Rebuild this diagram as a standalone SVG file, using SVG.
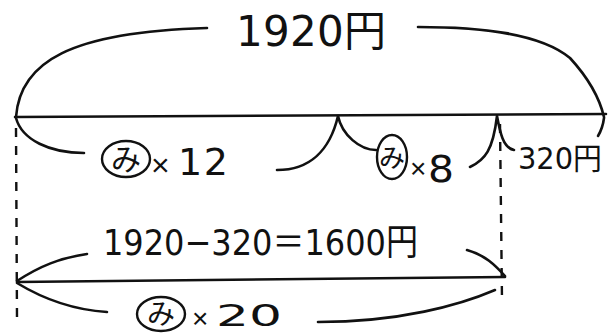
<svg xmlns="http://www.w3.org/2000/svg" width="614" height="333" viewBox="0 0 614 333">
<style>
.s{fill:none;stroke:#111;stroke-width:2.6;stroke-linecap:round;stroke-linejoin:round}
.d{fill:none;stroke:#111;stroke-width:2.4;stroke-dasharray:9 9}
.t{font-family:"DejaVu Sans","Noto Sans CJK JP",sans-serif;fill:#111}
.x{font-family:"Liberation Sans",sans-serif;fill:#111}
.m{font-family:"Noto Sans CJK JP",sans-serif;fill:#111}
.c{fill:none;stroke:#111;stroke-width:2.4}
</style>
<rect width="614" height="333" fill="#fff"/>
<g id="connectors">
<path class="s" d="M16,117 C20,62 70,32 207,28"/>
<path class="s" d="M418,27 C480,27 540,33 570,58 C592,82 600,100 604,117"/>
<path class="s" d="M15,117 L606,114"/>
<path class="s" d="M16,118 C22,140 50,153 84,153"/>
<path class="s" d="M277,170 C310,170 330,150 338,116 C342,135 360,150 376,150"/>
<path class="s" d="M470,167 C485,160 493,150 497,116 C500,132 503,148 514,150"/>
<path class="s" d="M604,118 C603,126 601,131 598,136"/>
<path class="d" d="M16,128 L17,320"/>
<path class="d" d="M500,124 L502,300"/>
<path class="s" d="M17,282 L505,277"/>
<path class="s" d="M17,281 C40,266 60,258 87,254"/>
<path class="s" d="M467,250 C485,255 495,265 505,276"/>
<path class="s" d="M17,283 C45,300 75,310 107,312"/>
<path class="s" d="M318,322 C400,322 460,305 495,290"/>
</g>
<g id="n1"><text class="t" x="236" y="46" font-size="42" textLength="150" lengthAdjust="spacing">1920円</text></g>
<g id="n2"><ellipse class="c" cx="126" cy="159" rx="24" ry="18"/><text class="m" x="126" y="170" font-size="30" text-anchor="middle">み</text><text class="x" x="151" y="176" font-size="32">×</text><text class="t" x="178" y="175" font-size="38" textLength="50" lengthAdjust="spacing">12</text></g>
<g id="n3"><ellipse class="c" cx="392" cy="157" rx="15" ry="22"/><text class="m" x="392" y="167" font-size="26" text-anchor="middle">み</text><text class="x" x="410" y="178" font-size="28">×</text><text class="t" x="428" y="182" font-size="38" textLength="26" lengthAdjust="spacingAndGlyphs">8</text></g>
<g id="n4"><text class="t" x="518" y="169" font-size="30" textLength="84" lengthAdjust="spacingAndGlyphs">320円</text></g>
<g id="n5"><text class="t" x="103" y="255" font-size="36" textLength="315" lengthAdjust="spacingAndGlyphs">1920−320＝1600円</text></g>
<g id="n6"><ellipse class="c" cx="161" cy="314" rx="24" ry="17"/><text class="m" x="161" y="324" font-size="28" text-anchor="middle">み</text><text class="x" x="192" y="328" font-size="28">×</text><text class="t" x="216" y="326" font-size="30" textLength="66" lengthAdjust="spacingAndGlyphs">20</text></g>
</svg>
